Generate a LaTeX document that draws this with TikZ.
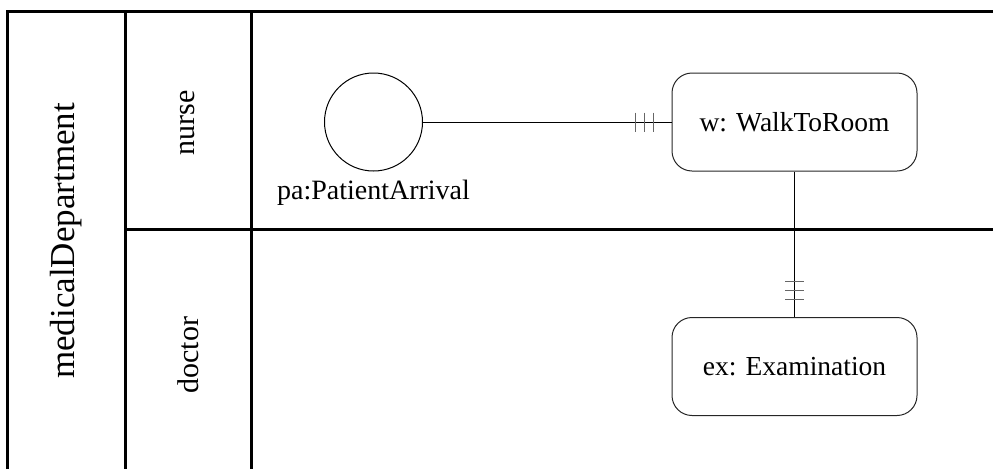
\documentclass[tikz,border=0pt]{standalone}
\usepackage{fontspec}
\setmainfont{Liberation Serif}
\usepackage{tikz}
\usetikzlibrary{positioning,calc}
\tikzset{
  poolline/.style={line width=3pt},
  lanelabel/.style={rotate=90, font=\fontsize{30}{34}\selectfont, inner sep=0pt},
  poollabel/.style={rotate=90, font=\fontsize{35}{40}\selectfont, inner sep=0pt},
  taskbox/.style={draw=black!85, line width=1pt, rounded corners=20pt, align=center,
    minimum width=245pt, minimum height=98pt, inner sep=0pt, font=\fontsize{27.5}{32}\selectfont},
  eventcircle/.style={circle, draw=black, line width=1pt, minimum size=98pt, inner sep=0pt},
  link/.style={line width=1pt},
  tick/.style={line width=1pt, black!60},
}
\begin{document}
\begin{tikzpicture}[x=1pt, y=-1pt]
  \useasboundingbox (0,0) rectangle (993,469);
  % pool and lanes
  \draw[poolline] (7,469) -- (7,11) -- (993,11);
  \draw[poolline] (125,11) -- (125,469);
  \draw[poolline] (251,11) -- (251,469);
  \draw[poolline] (125,229) -- (993,229);
  \node[poollabel] (dept) at (66,241) {medicalDepartment};
  \node[lanelabel] (nurse) at (188,123) {nurse};
  \node[lanelabel] (doctor) at (188,355) {doctor};
  % elements
  \node[eventcircle] (pa) at (373.5,122) {};
  \node[font=\fontsize{28}{32}\selectfont, below=8pt of pa, inner sep=0pt] (palabel) {pa:PatientArrival};
  \node[taskbox] (w) at (794.5,122) {w: WalkToRoom};
  \node[taskbox] (ex) at (794.5,366.5) {ex: Examination};
  % connectors
  \draw[link] (pa) -- (w);
  \draw[link] (w) -- (ex);
  \foreach \d in {18,27,36} {
    \draw[tick] ([xshift=-\d pt]w.west) ++(0,-9.5) -- ++(0,19);
    \draw[tick] ([yshift=\d pt]ex.north) ++(-9.5,0) -- ++(19,0);
  }
\end{tikzpicture}
\end{document}
